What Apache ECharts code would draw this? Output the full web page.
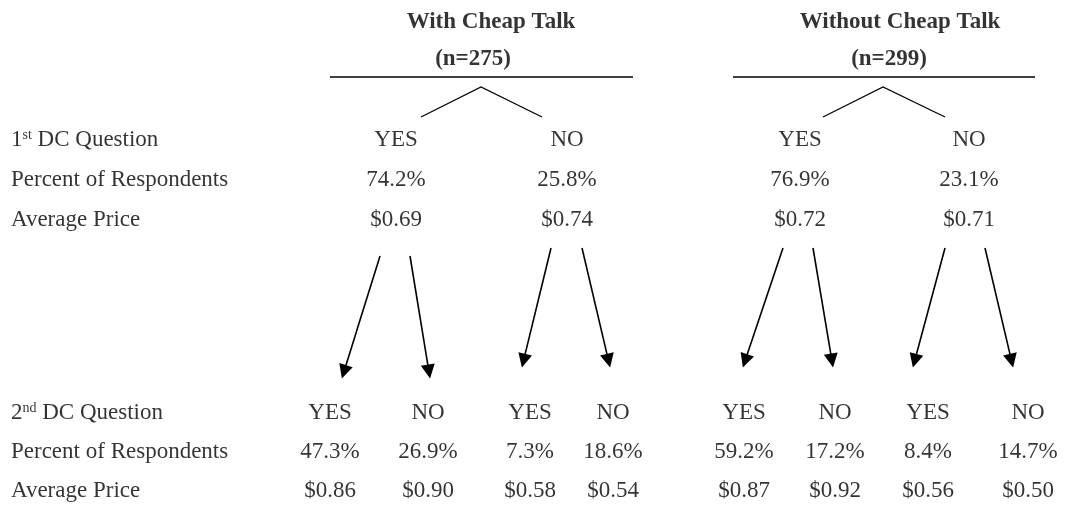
<!DOCTYPE html>
<html>
<head>
<meta charset="utf-8">
<script src="https://cdn.jsdelivr.net/npm/echarts@6/dist/echarts.min.js"></script>
<style>
  html, body { margin: 0; padding: 0; background: #fff; }
  #main { width: 1068px; height: 512px; }
</style>
</head>
<body>
<div id="main"></div>
<script>
// data
const groups = ["With Cheap Talk", "Without Cheap Talk"];
const sampleSizes = [275, 299];
const firstRowLabels = ["1{sup|st} DC Question", "Percent of Respondents", "Average Price"];
const secondRowLabels = ["2{sup|nd} DC Question", "Percent of Respondents", "Average Price"];
const firstAnswers = ["YES", "NO", "YES", "NO"];
const firstPercent = [74.2, 25.8, 76.9, 23.1];
const firstPrice = [0.69, 0.74, 0.72, 0.71];
const secondAnswers = ["YES", "NO", "YES", "NO", "YES", "NO", "YES", "NO"];
const secondPercent = [47.3, 26.9, 7.3, 18.6, 59.2, 17.2, 8.4, 14.7];
const secondPrice = [0.86, 0.90, 0.58, 0.54, 0.87, 0.92, 0.56, 0.50];

// layout (diagram positions on a plain 0..1068 / 0..512 grid)
const titleX = [491, 900];
const subtitleX = [473, 889];
const ruleX = [[330, 633], [733, 1035]];
const tentX = [[421, 481, 542], [823, 883, 945]];
const topColX = [396, 567, 800, 969];
const bottomColX = [330, 428, 530, 613, 744, 835, 928, 1028];
const topRowY = [140, 180, 220];
const bottomRowY = [413, 452, 491];
const arrowFromX = [380, 410, 551, 582, 783, 813, 945, 985];
const arrowFromY = [256, 256, 248, 248, 248, 248, 248, 248];
const arrowTipX = [342, 430, 522, 610, 743, 833, 913, 1013];
const arrowTipY = [378, 378, 367, 367, 367, 367, 367, 367];

const FONT = "Liberation Serif";
const baseText = { fontFamily: FONT, fontSize: 23, color: "#000" };

function textSeries(items, align, bold) {
  return {
    type: "scatter",
    symbolSize: 0,
    silent: true,
    data: items.map(d => ({ value: [d[0], d[1]], name: d[2] })),
    label: {
      show: true,
      position: "inside",
      align: align,
      verticalAlign: "middle",
      formatter: "{b}",
      ...baseText,
      fontWeight: bold ? "bold" : "normal",
      rich: {
        sup: { fontFamily: FONT, fontSize: 14, color: "#000", verticalAlign: "top", padding: [0, 0, 8, 0] }
      }
    }
  };
}

const pct = v => v.toFixed(1) + "%";
const usd = v => "$" + v.toFixed(2);

const headerItems = [];
groups.forEach((g, i) => {
  headerItems.push([titleX[i], 22, g]);
  headerItems.push([subtitleX[i], 59, "(n=" + sampleSizes[i] + ")"]);
});

const labelItems = [];
firstRowLabels.forEach((t, r) => labelItems.push([11, topRowY[r], t]));
secondRowLabels.forEach((t, r) => labelItems.push([11, bottomRowY[r], t]));

const cellItems = [];
firstAnswers.forEach((a, i) => {
  cellItems.push([topColX[i], topRowY[0], a]);
  cellItems.push([topColX[i], topRowY[1], pct(firstPercent[i])]);
  cellItems.push([topColX[i], topRowY[2], usd(firstPrice[i])]);
});
secondAnswers.forEach((a, i) => {
  cellItems.push([bottomColX[i], bottomRowY[0], a]);
  cellItems.push([bottomColX[i], bottomRowY[1], pct(secondPercent[i])]);
  cellItems.push([bottomColX[i], bottomRowY[2], usd(secondPrice[i])]);
});

// rules under the group headers and the split lines
const ruleLines = ruleX.map(r => ({ coords: [[r[0], 77], [r[1], 77]] }));
const tentLines = tentX.map(t => ({ coords: [[t[0], 117], [t[1], 87], [t[2], 117]] }));

// arrows: end point pulled back so the head's tip lands on the tip
const HEAD = 13;
const arrowLines = arrowFromX.map((x0, i) => {
  const y0 = arrowFromY[i], x1 = arrowTipX[i], y1 = arrowTipY[i];
  const len = Math.hypot(x1 - x0, y1 - y0);
  const k = (len - HEAD / 2) / len;
  return { coords: [[x0, y0], [x0 + (x1 - x0) * k, y0 + (y1 - y0) * k]] };
});

const option = {
  backgroundColor: "#fff",
  animation: false,
  grid: { left: 0, right: 0, top: 0, bottom: 0 },
  xAxis: { type: "value", min: 0, max: 1068, show: false },
  yAxis: { type: "value", min: 0, max: 512, inverse: true, show: false },
  series: [
    {
      type: "lines",
      coordinateSystem: "cartesian2d",
      polyline: true,
      silent: true,
      symbol: ["none", "none"],
      lineStyle: { color: "#000", width: 1.3, opacity: 1 },
      data: ruleLines.concat(tentLines)
    },
    {
      type: "lines",
      coordinateSystem: "cartesian2d",
      silent: true,
      symbol: ["none", "triangle"],
      symbolSize: [12, 14],
      lineStyle: { color: "#000", width: 1.6, opacity: 1 },
      itemStyle: { color: "#000" },
      data: arrowLines
    },
    textSeries(headerItems, "center", true),
    textSeries(labelItems, "left", false),
    textSeries(cellItems, "center", false)
  ]
};

const chart = echarts.init(document.getElementById("main"));
chart.setOption(option);
window.onresize = function() {
  chart.resize();
};
</script>
</body>
</html>
